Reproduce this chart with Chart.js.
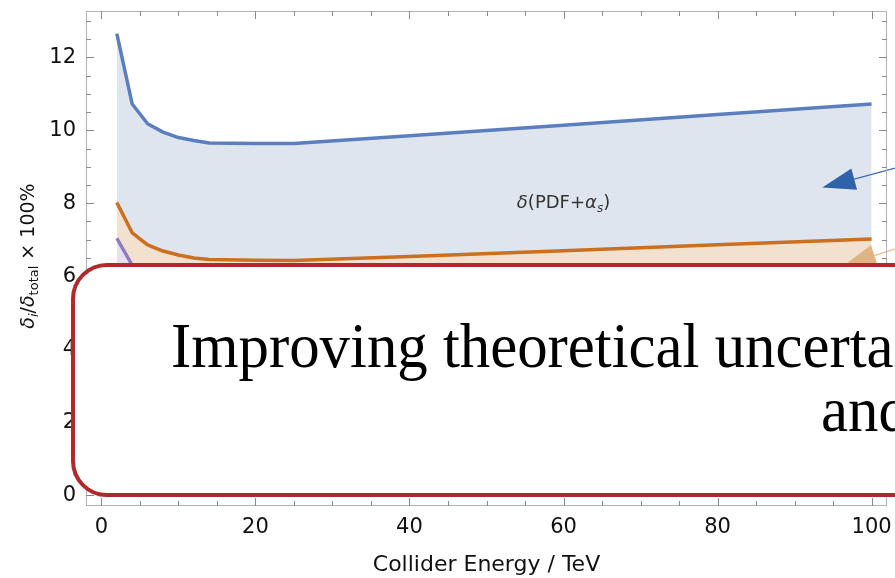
<!DOCTYPE html>
<html>
<head>
<meta charset="utf-8">
<script src="https://cdn.jsdelivr.net/npm/chart.js@4.4.1/dist/chart.umd.min.js"></script>
<style>
  html, body { margin: 0; padding: 0; background: #fff; overflow: hidden; }
  #wrap { position: relative; width: 895px; height: 578px; overflow: hidden; }
  #box {
    position: absolute; left: 71px; top: 263px; width: 1000px; height: 226px;
    border: 4px solid #b0292b; border-radius: 36px; background: #fff;
  }
  .slide-line {
    position: absolute; font-family: "Liberation Serif", serif; font-size: 64px;
    line-height: 64px; white-space: nowrap; color: #000;
    transform: scaleX(0.95); transform-origin: 0 0;
  }
</style>
</head>
<body>
<div id="wrap">
  <canvas id="chart" width="895" height="578"></canvas>
  <div id="box"></div>
  <div class="slide-line" style="left:171px; top:314px;">Improving theoretical uncertainties</div>
  <div class="slide-line" style="left:821px; top:378px;">and</div>
</div>
<script>
// collider energy (TeV) and the three uncertainty curves (in %)
const energies = [2, 4, 6, 8, 10, 12, 14, 20, 25, 40, 60, 80, 100];
const pdfAlphaS = [12.65, 10.72, 10.18, 9.95, 9.8, 9.72, 9.65, 9.64, 9.64, 9.85, 10.14, 10.43, 10.72];
const secondBand = [8.02, 7.19, 6.86, 6.69, 6.58, 6.5, 6.46, 6.44, 6.43, 6.54, 6.7, 6.86, 7.02];
const thirdBand = [7.04, 6.3, 5.95, 5.75, 5.62, 5.55, 5.5, 5.46, 5.45, 5.5, 5.6, 5.7, 5.8];

const xTickValues = [0, 20, 40, 60, 80, 100];
const yTickValues = [0, 2, 4, 6, 8, 10, 12];

function points(values) {
  return energies.map((e, i) => ({ x: e, y: values[i] }));
}

// draw a run of text pieces (with subscripts) centred on x
function drawRich(ctx, parts, x, y) {
  let width = 0;
  parts.forEach((p) => {
    ctx.font = p.font;
    width += ctx.measureText(p.t).width;
  });
  let cx = x - width / 2;
  parts.forEach((p) => {
    ctx.font = p.font;
    ctx.fillText(p.t, cx, y + (p.dy || 0));
    cx += ctx.measureText(p.t).width;
  });
}

function drawArrow(ctx, tip, tail, color, lineColor) {
  const dx = tail.x - tip.x, dy = tail.y - tip.y;
  const len = Math.sqrt(dx * dx + dy * dy);
  const ux = dx / len, uy = dy / len;
  const headLen = 33, half = 11;
  const bx = tip.x + ux * headLen, by = tip.y + uy * headLen;
  ctx.strokeStyle = lineColor;
  ctx.lineWidth = 1.2;
  ctx.beginPath();
  ctx.moveTo(bx, by);
  ctx.lineTo(tail.x, tail.y);
  ctx.stroke();
  ctx.fillStyle = color;
  ctx.beginPath();
  ctx.moveTo(tip.x, tip.y);
  ctx.lineTo(bx - uy * half, by + ux * half);
  ctx.lineTo(bx + uy * half, by - ux * half);
  ctx.closePath();
  ctx.fill();
}

const annotations = {
  id: "annotations",
  afterDatasetsDraw(chart) {
    const { ctx, scales: { x, y } } = chart;
    ctx.save();
    ctx.fillStyle = "#333";
    ctx.textBaseline = "alphabetic";
    drawRich(ctx, [
      { t: "δ", font: "italic 18px 'DejaVu Sans'" },
      { t: "(PDF+", font: "18px 'DejaVu Sans'" },
      { t: "α", font: "italic 18px 'DejaVu Sans'" },
      { t: "s", font: "italic 12px 'DejaVu Sans'", dy: 4 },
      { t: ")", font: "18px 'DejaVu Sans'" },
    ], x.getPixelForValue(60), y.getPixelForValue(7.86));

    drawArrow(ctx,
      { x: x.getPixelForValue(93.6), y: y.getPixelForValue(8.43) },
      { x: x.getPixelForValue(103.2), y: y.getPixelForValue(8.97) },
      "#2f62a8", "#3a68ac");
    drawArrow(ctx,
      { x: x.getPixelForValue(96.3), y: y.getPixelForValue(6.28) },
      { x: x.getPixelForValue(103.2), y: y.getPixelForValue(6.76) },
      "#e0b482", "#ebbd88");
    ctx.restore();
  },
};

// Mathematica-style frame with ticks pointing inwards on all four sides
const frameTicks = {
  id: "frameTicks",
  afterDraw(chart) {
    const { ctx, chartArea: a, scales: { x, y } } = chart;
    ctx.save();
    ctx.strokeStyle = "#b4b4b4";
    ctx.lineWidth = 1;
    ctx.strokeRect(a.left + 0.5, a.top + 0.5, a.right - a.left - 1, a.bottom - a.top - 1);
    ctx.strokeStyle = "#8a8a8a";
    ctx.beginPath();
    for (let v = 0; v <= 100; v += 5) {
      const px = Math.round(x.getPixelForValue(v)) + 0.5;
      const len = v % 20 === 0 ? 8 : 5;
      ctx.moveTo(px, a.bottom);
      ctx.lineTo(px, a.bottom - len);
      ctx.moveTo(px, a.top);
      ctx.lineTo(px, a.top + len);
    }
    for (let v = 0; v <= 13; v += 0.5) {
      const py = Math.round(y.getPixelForValue(v)) + 0.5;
      const len = v % 2 === 0 ? 8 : 5;
      ctx.moveTo(a.left, py);
      ctx.lineTo(a.left + len, py);
      ctx.moveTo(a.right, py);
      ctx.lineTo(a.right - len, py);
    }
    ctx.stroke();

    // y axis title with subscripts
    ctx.translate(28, 256);
    ctx.rotate(-Math.PI / 2);
    ctx.fillStyle = "#111";
    ctx.textBaseline = "alphabetic";
    drawRich(ctx, [
      { t: "δ", font: "italic 19px 'DejaVu Sans'" },
      { t: "i", font: "italic 13px 'DejaVu Sans'", dy: 4 },
      { t: "/", font: "19px 'DejaVu Sans'" },
      { t: "δ", font: "italic 19px 'DejaVu Sans'" },
      { t: "total", font: "13px 'DejaVu Sans'", dy: 4 },
      { t: " × 100%", font: "19px 'DejaVu Sans'" },
    ], 0, 6);
    ctx.restore();
  },
};

const tickFont = { family: "DejaVu Sans", size: 21 };

new Chart(document.getElementById("chart"), {
  type: "line",
  data: {
    datasets: [
      {
        label: "δ(PDF+αs)",
        data: points(pdfAlphaS),
        borderColor: "#5b7fbe",
        backgroundColor: "#dfe5ef",
        borderWidth: 3.5,
        fill: "+1",
      },
      {
        label: "band 2",
        data: points(secondBand),
        borderColor: "#cc6f1e",
        backgroundColor: "#f3e1cf",
        borderWidth: 3.5,
        fill: "+1",
      },
      {
        label: "band 3",
        data: points(thirdBand),
        borderColor: "#8c7cc0",
        backgroundColor: "#e6e1f0",
        borderWidth: 3.5,
        fill: "origin",
      },
    ],
  },
  options: {
    responsive: false,
    animation: false,
    layout: { padding: { top: 11, right: 8, left: 0, bottom: 0 } },
    elements: { point: { radius: 0 }, line: { tension: 0, borderJoinStyle: "round" } },
    plugins: {
      legend: { display: false },
      tooltip: { enabled: false },
      filler: { drawTime: "beforeDatasetsDraw" },
    },
    scales: {
      x: {
        type: "linear",
        min: -2,
        max: 102,
        afterBuildTicks: (s) => { s.ticks = xTickValues.map((v) => ({ value: v })); },
        afterFit: (s) => {
          s.height = 72;
          s.paddingLeft = 0;
          s.paddingRight = 0;
        },
        grid: { display: false, drawTicks: false },
        border: { display: false },
        ticks: { padding: 9, color: "#111", font: tickFont, maxRotation: 0 },
        title: {
          display: true,
          text: "Collider Energy / TeV",
          color: "#111",
          font: { family: "DejaVu Sans", size: 22 },
          padding: { top: 0, bottom: 0 },
        },
      },
      y: {
        type: "linear",
        min: -0.3,
        max: 13.27,
        afterBuildTicks: (s) => { s.ticks = yTickValues.map((v) => ({ value: v })); },
        afterFit: (s) => {
          s.width = 86;
          s.paddingTop = 0;
          s.paddingBottom = 0;
        },
        grid: { display: false, drawTicks: false },
        border: { display: false },
        ticks: { padding: 10, color: "#111", font: tickFont },
      },
    },
  },
  plugins: [annotations, frameTicks],
});
</script>
</body>
</html>
